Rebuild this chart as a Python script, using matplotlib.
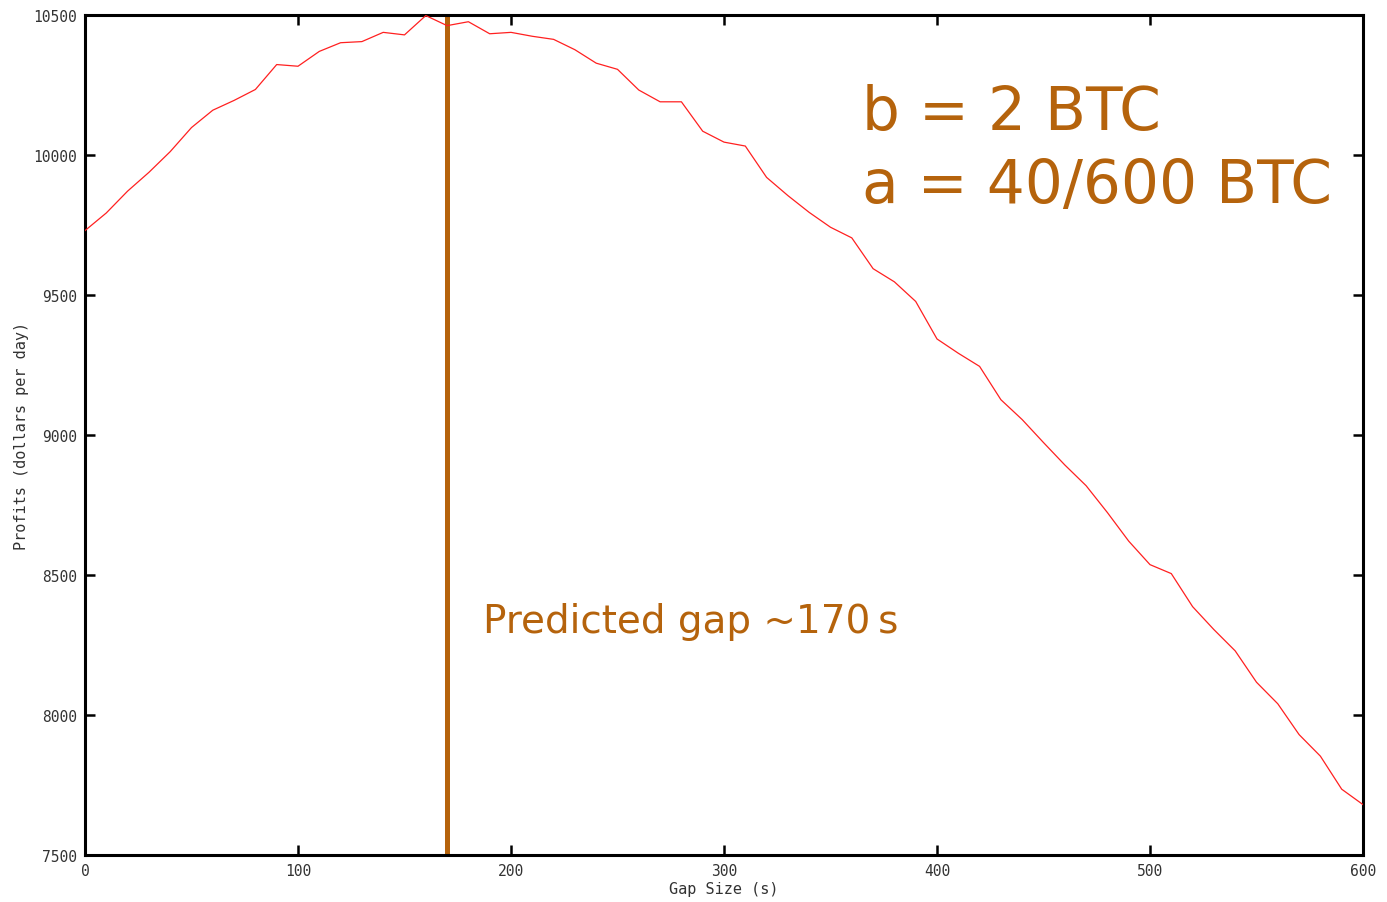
import matplotlib
matplotlib.use("Agg")
import matplotlib.pyplot as plt

# Simulated daily profit as a function of the gap size
gap_size = [0, 10, 20, 30, 40, 50, 60, 70, 80, 90,
            100, 110, 120, 130, 140, 150, 160, 170, 180, 190,
            200, 210, 220, 230, 240, 250, 260, 270, 280, 290,
            300, 310, 320, 330, 340, 350, 360, 370, 380, 390,
            400, 410, 420, 430, 440, 450, 460, 470, 480, 490,
            500, 510, 520, 530, 540, 550, 560, 570, 580, 590, 600]
profits = [9730, 9793, 9871, 9938, 10012, 10098, 10160, 10195, 10234, 10323,
           10317, 10370, 10401, 10405, 10438, 10429, 10498, 10462, 10476, 10433,
           10438, 10424, 10413, 10376, 10328, 10306, 10232, 10190, 10190, 10085,
           10046, 10032, 9920, 9855, 9795, 9742, 9704, 9594, 9547, 9477,
           9343, 9292, 9245, 9126, 9055, 8973, 8893, 8819, 8723, 8621,
           8537, 8505, 8387, 8305, 8229, 8117, 8040, 7930, 7853, 7735, 7680]

predicted_gap = 170
x_ticks = [0, 100, 200, 300, 400, 500, 600]
y_ticks = [7500, 8000, 8500, 9000, 9500, 10000, 10500]

accent = "#b5630c"

fig = plt.figure(figsize=(13.87, 9.03), dpi=100)
ax = fig.add_axes([85 / 1387, 1 - 856 / 903, (1363 - 85) / 1387, (856 - 16) / 903])

ax.plot(gap_size, profits, color="#ff2020", lw=0.9, zorder=3)
ax.axvline(predicted_gap, color=accent, lw=3.6, zorder=2)

ax.set_xlim(0, 600)
ax.set_ylim(7500, 10500)
ax.set_xticks(x_ticks)
ax.set_yticks(y_ticks)

mono = "DejaVu Sans Mono"
ax.tick_params(direction="in", length=7, width=1.8, top=True, right=True,
               labelsize=10.5, colors="black", pad=6)
for lab in ax.get_xticklabels() + ax.get_yticklabels():
    lab.set_family(mono)
    lab.set_color("#333333")
for sp in ax.spines.values():
    sp.set_linewidth(2.2)

ax.set_xlabel("Gap Size (s)", family=mono, fontsize=11, color="#333333", labelpad=2)
ax.set_ylabel("Profits (dollars per day)", family=mono, fontsize=11, color="#333333", labelpad=3)

ax.text(365, 10093, "b = 2 BTC", color=accent, fontsize=43,
        family="DejaVu Sans", va="baseline", ha="left")
ax.text(365, 9832, "a = 40/600 BTC", color=accent, fontsize=43,
        family="DejaVu Sans", va="baseline", ha="left")
ax.text(187, 8296, "Predicted gap ~170\u2009s", color=accent, fontsize=28,
        family="DejaVu Sans", va="baseline", ha="left")

fig.savefig("out.png", dpi=100, facecolor="white")
